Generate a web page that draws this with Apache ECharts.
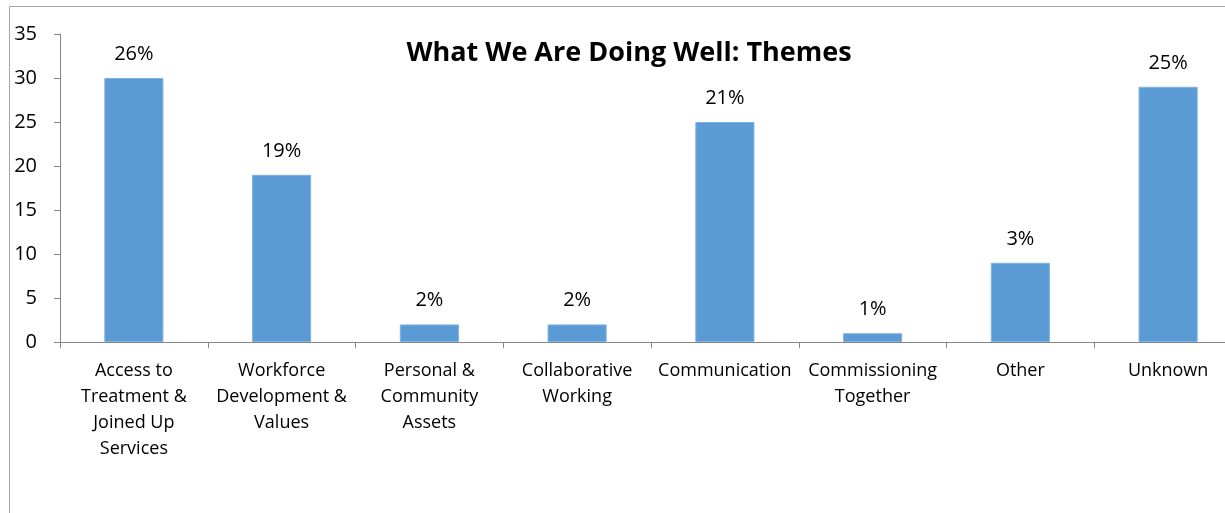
<!DOCTYPE html>
<html>
<head>
<meta charset="utf-8">
<script src="https://cdn.jsdelivr.net/npm/echarts@6/dist/echarts.min.js"></script>
<style>
  html, body { margin: 0; padding: 0; background: #fff; overflow: hidden; }
  /* canvas is wider than the page so the last category runs off the right edge */
  #chart { width: 1260px; height: 513px; }
</style>
</head>
<body>
<div id="chart"></div>
<script>
// Themes and their response counts
const categories = [
  'Access to\nTreatment &\nJoined Up\nServices',
  'Workforce\nDevelopment &\nValues',
  'Personal &\nCommunity\nAssets',
  'Collaborative\nWorking',
  'Communication',
  'Commissioning\nTogether',
  'Other',
  'Unknown'
];
const counts = [30, 19, 2, 2, 25, 1, 9, 29];
// Share of all responses shown above each bar
const shareLabels = ['26%', '19%', '2%', '2%', '21%', '1%', '3%', '25%'];
const yTicks = [0, 5, 10, 15, 20, 25, 30, 35];

const FONT = '"Open Sans", "Noto Sans", sans-serif';
const chart = echarts.init(document.getElementById('chart'));

chart.setOption({
  animation: false,
  title: {
    text: 'What We Are Doing Well: Themes',
    left: 624,
    top: 48,
    textAlign: 'center',
    textVerticalAlign: 'middle',
    textStyle: { fontFamily: FONT, fontSize: 27, fontWeight: 'bold', color: '#000' }
  },
  graphic: [{
    type: 'rect',
    shape: { x: 9.5, y: 6.5, width: 1400, height: 700 },
    style: { fill: 'none', stroke: '#a6a6a6', lineWidth: 1 },
    silent: true,
    z: -1
  }],
  grid: { left: 60, top: 34, right: 18, height: 308 },
  xAxis: {
    type: 'category',
    data: categories,
    axisLine: { lineStyle: { color: '#868686' } },
    axisTick: { show: true, length: 6, lineStyle: { color: '#868686' } },
    axisLabel: {
      interval: 0,
      margin: 16,
      lineHeight: 26,
      fontFamily: FONT,
      fontSize: 18,
      color: '#000'
    },
    splitLine: { show: false }
  },
  yAxis: {
    type: 'value',
    min: yTicks[0],
    max: yTicks[yTicks.length - 1],
    interval: 5,
    axisLine: { show: true, lineStyle: { color: '#868686' } },
    axisTick: { show: true, length: 6, lineStyle: { color: '#868686' } },
    axisLabel: { margin: 23, fontFamily: FONT, fontSize: 20, color: '#000' },
    splitLine: { show: false }
  },
  series: [{
    type: 'bar',
    data: counts,
    barWidth: '40%',
    itemStyle: { color: '#5b9bd5', borderColor: '#7fb2e3', borderWidth: 1 },
    label: {
      show: true,
      position: 'top',
      distance: 14,
      fontFamily: FONT,
      fontSize: 20,
      color: '#000',
      formatter: p => shareLabels[p.dataIndex]
    }
  }]
});
</script>
</body>
</html>
